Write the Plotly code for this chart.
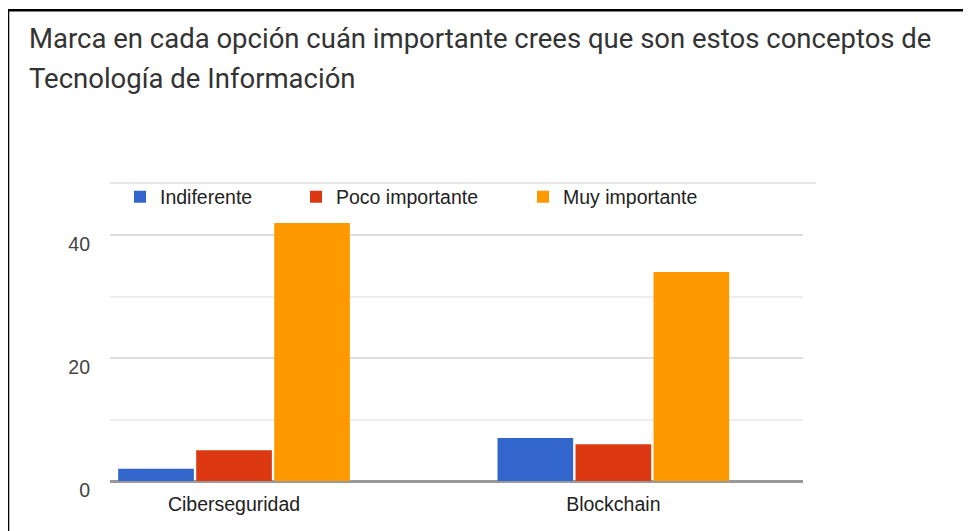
import plotly.graph_objects as go

# Datos de la encuesta
categorias = ["Ciberseguridad", "Blockchain"]
indiferente = [2, 7]
poco_importante = [5, 6]
muy_importante = [42, 34]

series = [
    ("Indiferente", indiferente, "#3366cc", "legend"),
    ("Poco importante", poco_importante, "#dc3912", "legend2"),
    ("Muy importante", muy_importante, "#ff9900", "legend3"),
]

fig = go.Figure()
for nombre, valores, color, leyenda in series:
    fig.add_trace(go.Bar(
        x=categorias, y=valores, name=nombre,
        marker=dict(color=color, line=dict(width=0)),
        legend=leyenda,
    ))

# la página deja 8px de margen en el body, así que se compensa
OFF = 8
W, H = 963, 523
L, R, T, B = 102, 168, 175, 49.5
pw, ph = W - L - R, H - T - B

def px_x(x):  # pixel de la referencia -> paper
    return (x - OFF - L) / pw

def px_y(y):
    return (H - B - (y - OFF)) / ph

leg_font = dict(family="Liberation Sans, Arial", size=19.5, color="#222222")
leg_common = dict(orientation="h", yanchor="middle", y=px_y(197), xanchor="left",
                  font=leg_font, bgcolor="rgba(0,0,0,0)", borderwidth=0)

fig.update_layout(
    width=W, height=H,
    margin=dict(l=L, r=R, t=T, b=B),
    paper_bgcolor="white", plot_bgcolor="white",
    barmode="group", bargap=0.383, bargroupgap=0.03,
    legend=dict(x=px_x(120), **leg_common),
    legend2=dict(x=px_x(296), **leg_common),
    legend3=dict(x=px_x(523), **leg_common),
    xaxis=dict(
        range=[-0.327, 1.5], showgrid=False, zeroline=False, showline=False,
        ticks="", tickfont=dict(family="Liberation Sans, Arial", size=19.5, color="#222222"),
        ticklabelstandoff=9,
    ),
    yaxis=dict(
        range=[0, 48.5], dtick=20, tick0=0,
        showgrid=True, gridcolor="#dddddd", gridwidth=2,
        minor=dict(dtick=10, showgrid=True, gridcolor="#eeeeee", gridwidth=2),
        zeroline=True, zerolinecolor="#999999", zerolinewidth=3,
        showline=False, ticks="",
        tickfont=dict(family="Liberation Sans, Arial", size=19.5, color="#444444"),
        ticklabelstandoff=19, ticklabelshift=9,
    ),
    showlegend=True,
)

# marco exterior y línea superior del área de leyenda
fig.add_shape(type="rect", xref="paper", yref="paper",
              x0=px_x(8), x1=px_x(W + 40), y0=px_y(H + 40), y1=px_y(10),
              line=dict(color="black", width=2.5), fillcolor="rgba(0,0,0,0)", layer="above")
fig.add_shape(type="line", xref="paper", yref="paper",
              x0=0, x1=px_x(816), y0=1, y1=1,
              line=dict(color="#e8e8e8", width=2))

titulo = ["Marca en cada opción cuán importante crees que son estos conceptos de",
          "Tecnología de Información"]
for texto, yc in zip(titulo, [38, 78]):
    fig.add_annotation(text=texto, xref="paper", yref="paper",
                       x=px_x(27), y=px_y(yc), xanchor="left", yanchor="middle",
                       showarrow=False,
                       font=dict(family="Roboto", size=27.5, color="#333333"))

fig.write_html("out.html")
